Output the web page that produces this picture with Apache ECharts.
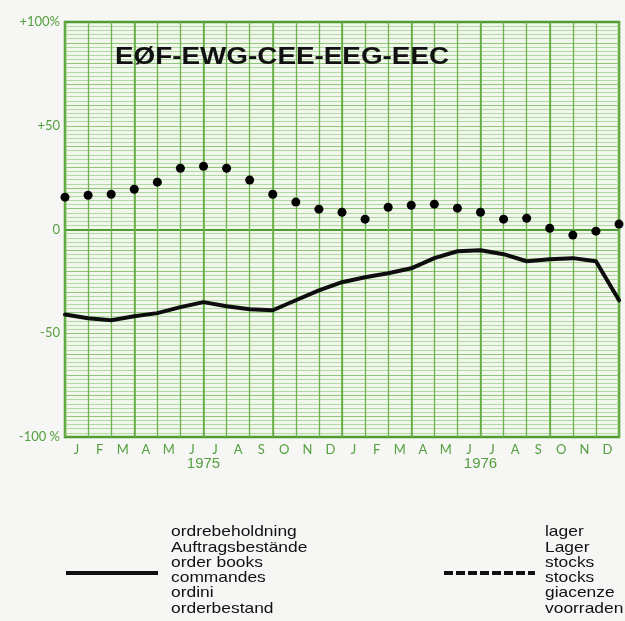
<!DOCTYPE html>
<html><head><meta charset="utf-8">
<script src="https://cdn.jsdelivr.net/npm/echarts@6/dist/echarts.min.js"></script>
<style>html,body{margin:0;padding:0;background:#f6f6f4;}#c{width:625px;height:621px;}</style>
</head><body><div id="c"></div>
<script>
// Month categories (Jan 1975 .. Dec 1976)
const months = ['J','F','M','A','M','J','J','A','S','O','N','D','J','F','M','A','M','J','J','A','S','O','N','D'];
const years = ['1975', '1976'];
// Values at month boundaries (start of Jan 1975 ... end of Dec 1976), in %
const orderBooks = [-41, -42.8, -43.7, -41.8, -40.3, -37.4, -35, -37, -38.4, -38.9, -34.1, -29.3,
                    -25.4, -23, -21.1, -18.7, -13.8, -10.5, -10, -11.9, -15.3, -14.3, -13.8, -15.3, -34.1];
const stocks = [15.6, 16.5, 17, 19.4, 22.8, 29.5, 30.5, 29.5, 23.8, 17, 13.2, 9.8,
                8.3, 5, 10.7, 11.7, 12.2, 10.3, 8.3, 5, 5.4, 0.6, -2.7, -0.8, 2.6];
const yTickLabels = {'100': '+100%', '50': '+50', '0': '0', '-50': '-50', '-100': '-100 %'};
const titleText = 'EØF-EWG-CEE-EEG-EEC';
const legendOrders = ['ordrebeholdning', 'Auftragsbestände', 'order books', 'commandes', 'ordini', 'orderbestand'];
const legendStocks = ['lager', 'Lager', 'stocks', 'stocks', 'giacenze', 'voorraden'];

const GREEN = '#55a040';
const chart = echarts.init(document.getElementById('c'), null, {renderer: 'canvas'});
const option = {
  backgroundColor: '#f6f6f4',
  animation: false,
  grid: {left: 65, right: 6, top: 22, bottom: 184, show: true, backgroundColor: '#f2f7ee',
         borderColor: '#4f9d31', borderWidth: 2.5, containLabel: false},
  xAxis: [
    {type: 'category', data: months, boundaryGap: true, position: 'bottom',
     axisLine: {show: false}, axisTick: {show: false},
     axisLabel: {color: GREEN, fontFamily: 'Lato', fontSize: 13, margin: 6, interval: 0},
     splitLine: {show: true, interval: 0, lineStyle: {color: '#6db24e', width: 1.3}}},
    {type: 'category', data: months, boundaryGap: true, position: 'bottom', show: true,
     axisLine: {show: false}, axisTick: {show: false}, axisLabel: {show: false},
     splitLine: {show: true, interval: function (i) { return i % 3 === 0; }, lineStyle: {color: '#65ae45', width: 1.6}}},
    {type: 'value', min: 0, max: 24, show: false},
    {type: 'category', data: years, position: 'bottom', offset: 14,
     axisLine: {show: false}, axisTick: {show: false},
     axisLabel: {color: GREEN, fontFamily: '"Liberation Sans", Arial', fontSize: 15, margin: 5},
     splitLine: {show: false}}
  ],
  yAxis: [
    {type: 'value', min: -100, max: 100, interval: 10,
     axisLine: {show: false}, axisTick: {show: false},
     axisLabel: {color: GREEN, fontFamily: 'Lato', fontSize: 13, margin: 5, padding: [0, 0, 8, 0],
                 formatter: function (v) { return yTickLabels[String(v)] || ''; }},
     splitLine: {show: true, lineStyle: {color: '#8fc676', width: 1}},
     minorTick: {show: false, splitNumber: 5},
     minorSplitLine: {show: true, lineStyle: {color: '#b3d9a3', width: 1}}},
    {type: 'value', min: -100, max: 100, interval: 100, show: true, position: 'left',
     axisLine: {show: false}, axisTick: {show: false}, axisLabel: {show: false},
     splitLine: {show: true, lineStyle: {color: '#4f9d31', width: 2}}}
  ],
  series: [
    {name: 'order books', type: 'line', xAxisIndex: 2, yAxisIndex: 0,
     data: orderBooks.map(function (v, i) { return [i, v]; }),
     showSymbol: false, lineStyle: {color: '#0d0d0d', width: 4, join: 'round', cap: 'round'}, z: 5},
    {name: 'stocks', type: 'scatter', xAxisIndex: 2, yAxisIndex: 0,
     data: stocks.map(function (v, i) { return [i, v]; }),
     symbol: 'circle', symbolSize: 9, itemStyle: {color: '#000', opacity: 1}, z: 6}
  ],
  graphic: [
    {type: 'text', x: 115, y: 45, scaleX: 1.16, z: 10,
     style: {text: titleText, font: 'bold 24px "Liberation Sans", Arial', fill: '#111'}},
    {type: 'line', shape: {x1: 66, y1: 573, x2: 158, y2: 573}, style: {stroke: '#111', lineWidth: 4}},
    {type: 'text', x: 171, y: 524.5, scaleX: 1.16,
     style: {text: legendOrders.join('\n'), font: '15px "Liberation Sans", Arial', fill: '#111', lineHeight: 15.3, verticalAlign: 'top'}},
    {type: 'line', shape: {x1: 444, y1: 573, x2: 535, y2: 573}, style: {stroke: '#111', lineWidth: 4, lineDash: [9, 3]}},
    {type: 'text', x: 545, y: 524.5, scaleX: 1.16,
     style: {text: legendStocks.join('\n'), font: '15px "Liberation Sans", Arial', fill: '#111', lineHeight: 15.3, verticalAlign: 'top'}}
  ]
};
chart.setOption(option);
</script></body></html>
